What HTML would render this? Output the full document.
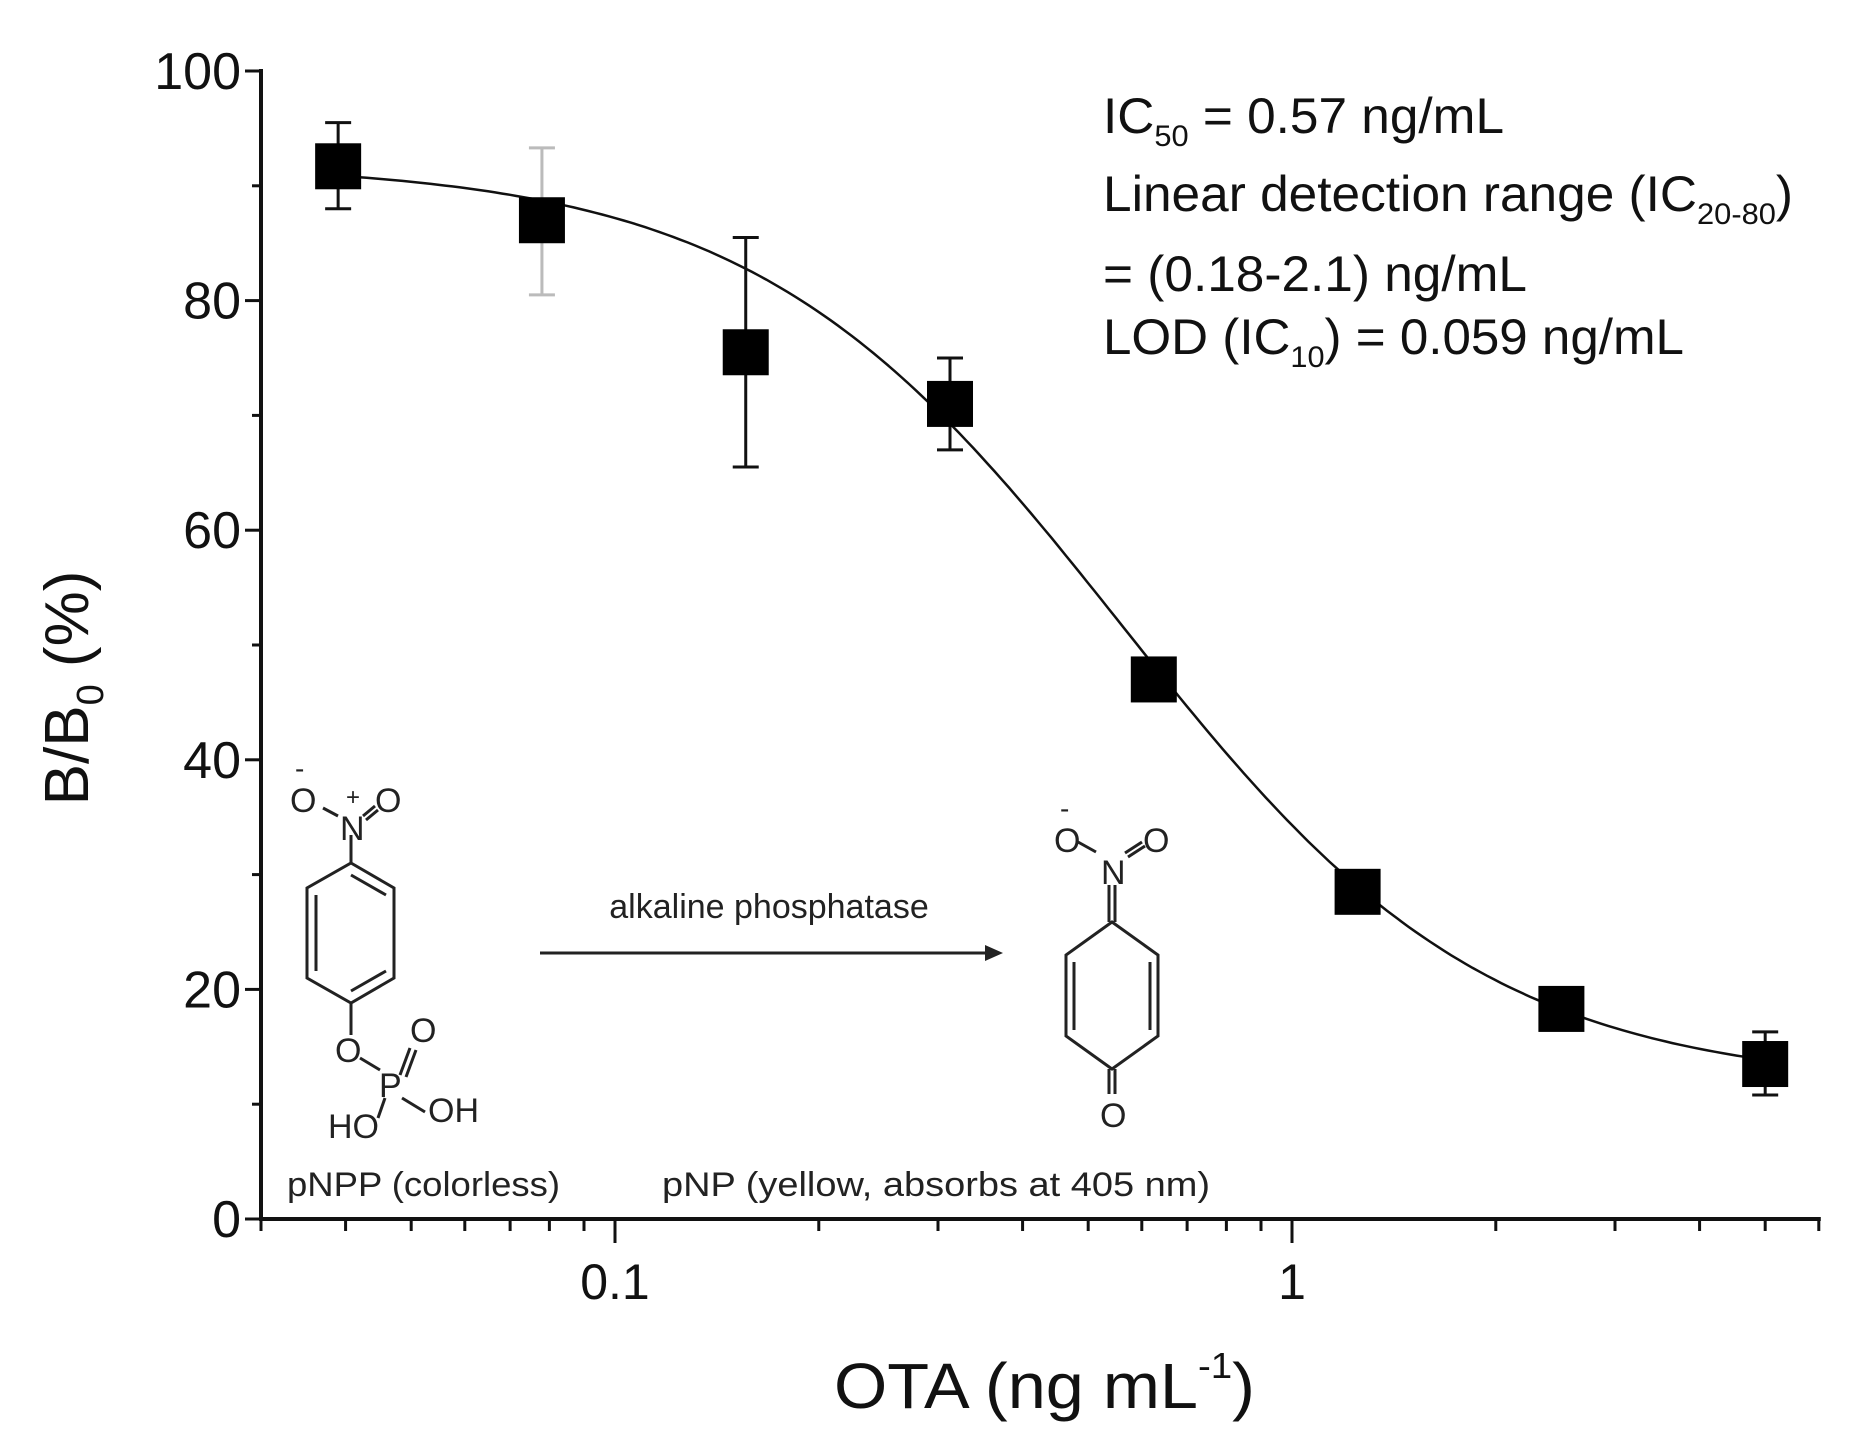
<!DOCTYPE html>
<html><head><meta charset="utf-8"><style>
html,body{margin:0;padding:0;background:#fff;}
svg{display:block;font-family:"Liberation Sans",sans-serif;}
</style></head><body>
<svg id="chart" width="1851" height="1440" viewBox="0 0 1851 1440" xmlns="http://www.w3.org/2000/svg">
<g id="axes"></g>
<g id="curve"></g>
<g id="points"></g>
<g font-size="50" fill="#111">
<text x="1103" y="133" textLength="401" lengthAdjust="spacingAndGlyphs">IC<tspan font-size="30" dy="13">50</tspan><tspan dy="-13"> = 0.57 ng/mL</tspan></text>
<text x="1103" y="211" textLength="690" lengthAdjust="spacingAndGlyphs">Linear detection range (IC<tspan font-size="30" dy="13">20-80</tspan><tspan dy="-13">)</tspan></text>
<text x="1103" y="291" textLength="424" lengthAdjust="spacingAndGlyphs">= (0.18-2.1) ng/mL</text>
<text x="1103" y="354" textLength="581" lengthAdjust="spacingAndGlyphs">LOD (IC<tspan font-size="30" dy="13">10</tspan><tspan dy="-13">) = 0.059 ng/mL</tspan></text>
</g>
<g stroke="#222" stroke-width="3" fill="none">
<polygon points="351,863 394,888 394,978 351,1003 307,978 307,888"/>
<line x1="316" y1="895" x2="316" y2="971"/><line x1="351" y1="875" x2="386" y2="895"/><line x1="351" y1="991" x2="386" y2="971"/>
<line x1="351" y1="863" x2="351" y2="835"/><line x1="351" y1="1003" x2="351" y2="1035"/>
<line x1="360" y1="1058" x2="380" y2="1070"/><line x1="400" y1="1075" x2="410" y2="1048"/><line x1="406" y1="1077" x2="416" y2="1050"/>
<line x1="402" y1="1098" x2="425" y2="1112"/><line x1="385" y1="1098" x2="378" y2="1118"/>
<line x1="323" y1="808" x2="338" y2="816"/><line x1="363" y1="816" x2="375" y2="806"/><line x1="366" y1="820" x2="378" y2="810"/>
<line x1="540" y1="953" x2="985" y2="953"/>
<polygon points="985,945 1003,953 985,961" fill="#222" stroke="none"/>
<polygon points="1112,922 1158,955 1158,1036 1112,1069 1066,1036 1066,955"/>
<line x1="1074" y1="962" x2="1074" y2="1030"/><line x1="1150" y1="962" x2="1150" y2="1030"/>
<line x1="1109" y1="922" x2="1109" y2="885"/><line x1="1115" y1="922" x2="1115" y2="885"/>
<line x1="1109" y1="1069" x2="1109" y2="1094"/><line x1="1115" y1="1069" x2="1115" y2="1094"/>
<line x1="1078" y1="842" x2="1096" y2="852"/><line x1="1125" y1="853" x2="1142" y2="842"/><line x1="1128" y1="857" x2="1145" y2="846"/>
</g>
<g fill="#222" font-size="34">
<text x="290" y="812">O</text><text x="295" y="778" font-size="28">-</text>
<text x="340" y="840">N</text><text x="346" y="805" font-size="24">+</text>
<text x="375" y="812">O</text>
<text x="335" y="1062">O</text><text x="379" y="1097">P</text><text x="410" y="1042">O</text>
<text x="428" y="1122">OH</text><text x="328" y="1138">HO</text>
<text x="1054" y="852">O</text><text x="1060" y="818" font-size="28">-</text>
<text x="1101" y="884">N</text><text x="1143" y="852">O</text>
<text x="1100" y="1127">O</text>
<text x="769" y="918" text-anchor="middle" font-size="34">alkaline phosphatase</text>
<text x="287" y="1196" font-size="34" textLength="273" lengthAdjust="spacingAndGlyphs">pNPP (colorless)</text>
<text x="662" y="1196" font-size="34" textLength="548" lengthAdjust="spacingAndGlyphs">pNP (yellow, absorbs at 405 nm)</text>
</g>
<text x="834" y="1408" font-size="64" fill="#111" textLength="421" lengthAdjust="spacingAndGlyphs">OTA (ng mL<tspan font-size="36" dy="-30">-1</tspan><tspan dy="30">)</tspan></text>
<text transform="translate(88,688) rotate(-90)" text-anchor="middle" font-size="62" fill="#111">B/B<tspan font-size="38" dy="15">0</tspan><tspan dy="-15"> (%)</tspan></text>
</svg>
<script>
const concentrations = [0.039, 0.078, 0.156, 0.3125, 0.625, 1.25, 2.5, 5];
const bValues = [91.7, 87, 75.5, 71, 47, 28.5, 18.3, 13.5];
const errLow = [88, 80.5, 65.5, 67, 46, 27.5, 17.5, 10.8];
const errHigh = [95.5, 93.3, 85.5, 75, 48, 29.5, 19.2, 16.3];
const errGrey = [false, true, false, false, false, false, false, false];
const fitParams = [92, 11.5, 0.56, 1.6]; // top, bottom, ic50, hill
const yTicks = [0, 20, 40, 60, 80, 100];
const xTickLabels = [0.1, 1];
const xMinorTicks = [0.03,0.04,0.05,0.06,0.07,0.08,0.09,0.2,0.3,0.4,0.5,0.6,0.7,0.8,0.9,2,3,4,5,6];

const NS = 'http://www.w3.org/2000/svg';
const X0 = 261, XDEC = 677, XMIN = 0.03, Y0 = 1219, YTOP = 71;
function xs(v){ return X0 + (Math.log10(v) - Math.log10(XMIN)) * XDEC; }
function ys(v){ return Y0 - v / 100 * (Y0 - YTOP); }
function mk(tag, attrs, parent){ const e = document.createElementNS(NS, tag); for (const k in attrs) e.setAttribute(k, attrs[k]); parent.appendChild(e); return e; }

const axes = document.getElementById('axes');
const xEnd = xs(6);
let l = mk('line', {x1: X0, y1: Y0, x2: xEnd + 2, y2: Y0, stroke: '#111', 'stroke-width': 4}, axes);


l = mk('line', {x1: X0, y1: Y0 + 2, x2: X0, y2: YTOP - 2, stroke: '#111', 'stroke-width': 4}, axes);


yTicks.forEach(t => {
  const y = ys(t);
  const tk = mk('line', {x1: X0 - 16, y1: y, x2: X0, y2: y, stroke: '#111', 'stroke-width': 3}, axes);
  
  
  const lb = mk('text', {x: X0 - 20, y: y + 18, 'text-anchor': 'end', 'font-size': 52, fill: '#111'}, axes);
  lb.textContent = t;
  
  
  if (t < 100) {
    const mt = mk('line', {x1: X0 - 9, y1: ys(t + 10), x2: X0, y2: ys(t + 10), stroke: '#111', 'stroke-width': 3}, axes);
    
    
  }
});
xMinorTicks.forEach(t => {
  const x = xs(t);
  const tk = mk('line', {x1: x, y1: Y0, x2: x, y2: Y0 + 12, stroke: '#111', 'stroke-width': 3}, axes);
  
  
});
xTickLabels.forEach(t => {
  const x = xs(t);
  const tk = mk('line', {x1: x, y1: Y0, x2: x, y2: Y0 + 24, stroke: '#111', 'stroke-width': 3}, axes);
  
  
  const lb = mk('text', {x: x, y: Y0 + 80, 'text-anchor': 'middle', 'font-size': 50, fill: '#111'}, axes);
  lb.textContent = t;
  
  
});

const cg = document.getElementById('curve');
let d = '';
const lo = Math.log10(concentrations[0]), hi = Math.log10(concentrations[concentrations.length - 1]);
for (let i = 0; i <= 200; i++) {
  const c = Math.pow(10, lo + (hi - lo) * i / 200);
  const v = fitParams[1] + (fitParams[0] - fitParams[1]) / (1 + Math.pow(c / fitParams[2], fitParams[3]));
  d += (i ? 'L' : 'M') + xs(c).toFixed(1) + ',' + ys(v).toFixed(1);
}
const path = mk('path', {d: d, fill: 'none', stroke: '#111', 'stroke-width': 2.5}, cg);



const pg = document.getElementById('points');
concentrations.forEach((c, i) => {
  const x = xs(c), col = errGrey[i] ? '#bbb' : '#111';
  const eb = mk('path', {d: `M${x},${ys(errLow[i])}V${ys(errHigh[i])}M${x-13},${ys(errLow[i])}h26M${x-13},${ys(errHigh[i])}h26`, stroke: col, 'stroke-width': 3, fill: 'none'}, pg);
  
  
  const r = mk('rect', {x: x - 23, y: ys(bValues[i]) - 23, width: 46, height: 46, fill: '#000'}, pg);
  
  
});
</script>
</body></html>
